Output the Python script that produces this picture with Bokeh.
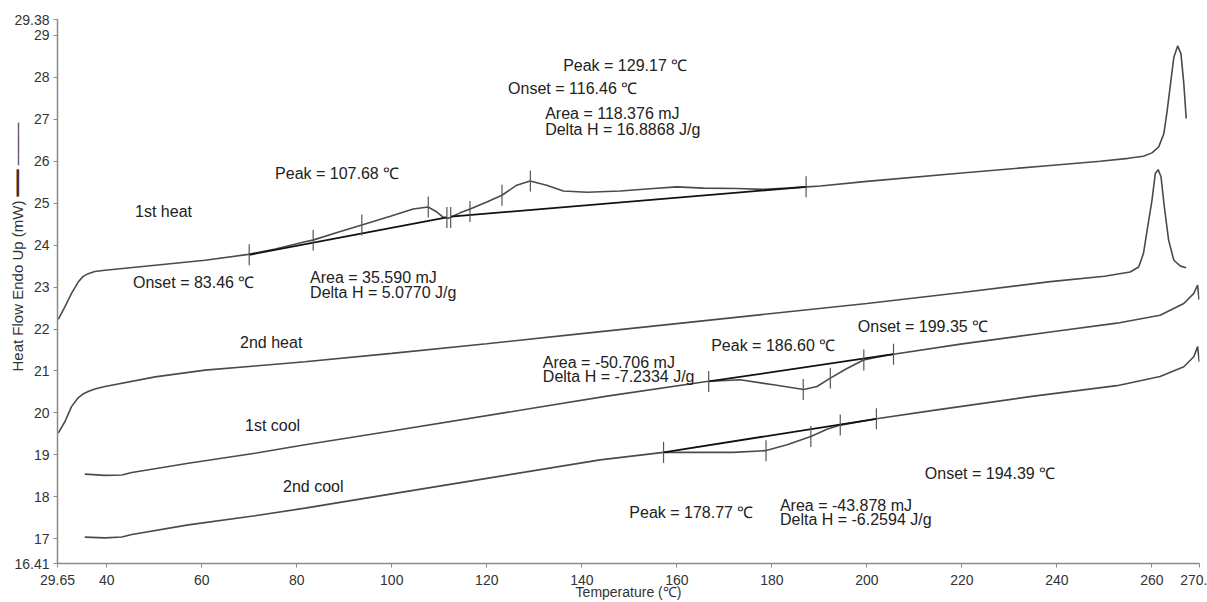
from bokeh.plotting import figure
from bokeh.models import Range1d, FixedTicker, Title
from bokeh.core.properties import value
from bokeh.embed import file_html
from bokeh.resources import INLINE

# ---------------- data ----------------
# 1st heat
T1 = [29.8, 31.2, 32.6, 34.0, 35.0, 36.1, 37.5, 39.65, 50.2, 60.7, 69.8, 75.5, 81.75, 83.4, 88.5, 93.7,
      99.7, 104.5, 107.65, 109.5, 110.8, 111.9, 114.4, 116.5, 120.0, 123.2, 126.3, 129.1,
      132.6, 136.1, 141.1, 148.1, 155.1, 160.0, 165.6, 172.6, 178.2, 183.2, 187.4, 190.2,
      200.0, 220.0, 238.6, 249.1, 255.0, 258.2, 260.0, 261.4, 262.5, 263.2, 263.9, 264.6,
      265.4, 266.1, 266.7, 267.2]
H1 = [22.23, 22.53, 22.85, 23.12, 23.25, 23.32, 23.37, 23.40, 23.52, 23.64, 23.78, 23.91, 24.08, 24.12, 24.30, 24.48,
      24.69, 24.86, 24.91, 24.79, 24.67, 24.64, 24.77, 24.86, 25.03, 25.19, 25.43, 25.53,
      25.43, 25.29, 25.26, 25.29, 25.35, 25.39, 25.36, 25.35, 25.33, 25.36, 25.39, 25.41,
      25.52, 25.72, 25.90, 26.00, 26.07, 26.12, 26.20, 26.34, 26.66, 27.21, 27.85, 28.48,
      28.75, 28.56, 27.85, 27.02]

# 2nd heat
T2 = [29.8, 31.2, 32.6, 34.0, 35.0, 36.1, 37.5, 39.65, 50.2, 60.7, 71.2, 81.75, 100.0, 120.0, 140.0, 160.0,
      180.0, 200.0, 220.0, 238.6, 250.0, 255.4, 257.2, 258.2, 259.1, 260.0, 260.7, 261.3,
      261.9, 262.6, 263.5, 264.6, 266.0, 267.2]
H2 = [19.52, 19.79, 20.15, 20.36, 20.45, 20.51, 20.57, 20.63, 20.86, 21.02, 21.12, 21.22, 21.42, 21.65, 21.89, 22.13,
      22.37, 22.61, 22.87, 23.13, 23.26, 23.36, 23.48, 23.80, 24.44, 25.07, 25.71, 25.80,
      25.63, 24.91, 24.12, 23.64, 23.50, 23.46]

# 1st cool
T3 = [35.4, 39.65, 43.2, 45.3, 57.2, 71.2, 81.75, 100.0, 131.2, 145.3, 166.3, 173.3, 180.35,
      186.7, 189.5, 192.3, 195.8, 199.3, 202.1, 205.6, 219.7, 238.6, 252.6, 261.7, 266.7,
      268.8, 269.6, 269.9]
H3 = [18.54, 18.51, 18.52, 18.58, 18.80, 19.04, 19.24, 19.57, 20.14, 20.40, 20.75, 20.79, 20.67,
      20.56, 20.63, 20.83, 21.06, 21.26, 21.33, 21.40, 21.64, 21.93, 22.14, 22.33, 22.61,
      22.85, 23.05, 22.70]

# 2nd cool
T4 = [35.4, 39.65, 43.2, 45.3, 57.2, 71.2, 81.75, 100.0, 120.0, 143.85, 157.2, 164.9, 171.9,
      178.6, 183.2, 188.2, 191.6, 194.4, 202.0, 214.0, 235.1, 252.6, 261.7, 266.7, 268.8,
      269.6, 269.95]
H4 = [17.04, 17.02, 17.04, 17.10, 17.33, 17.55, 17.73, 18.07, 18.44, 18.88, 19.06, 19.06, 19.06,
      19.10, 19.24, 19.44, 19.61, 19.71, 19.86, 20.06, 20.40, 20.65, 20.87, 21.10, 21.34,
      21.58, 21.22]

# integration baselines (start T, start H, end T, end H)
base_T0 = [70.0, 112.4, 166.7, 157.2]
base_H0 = [23.77, 24.68, 20.75, 19.06]
base_T1 = [111.6, 187.2, 205.6, 202.0]
base_H1 = [24.66, 25.39, 21.40, 19.86]

# event tick marks (T, H)
mark_T = [70.0, 83.46, 93.7, 107.68, 111.6, 112.4, 116.46, 123.2, 129.17, 187.2,
          166.7, 186.6, 192.3, 199.35, 205.6,
          157.2, 178.77, 188.2, 194.39, 202.0]
mark_H = [23.77, 24.12, 24.48, 24.91, 24.66, 24.66, 24.80, 25.19, 25.53, 25.39,
          20.75, 20.56, 20.83, 21.26, 21.40,
          19.06, 19.10, 19.44, 19.71, 19.86]

# annotation texts
ann_text = ["Peak = 129.17 \u2103", "Onset = 116.46 \u2103", "Area = 118.376 mJ", "Delta H = 16.8868 J/g",
            "Peak = 107.68 \u2103", "1st heat", "Onset = 83.46 \u2103", "Area = 35.590 mJ",
            "Delta H = 5.0770 J/g", "2nd heat", "Onset = 199.35 \u2103", "Peak = 186.60 \u2103",
            "Area = -50.706 mJ", "Delta H = -7.2334 J/g", "1st cool", "2nd cool",
            "Onset = 194.39 \u2103", "Peak = 178.77 \u2103", "Area = -43.878 mJ", "Delta H = -6.2594 J/g"]
ann_T = [136.07, 124.49, 132.28, 132.28, 75.44, 45.97, 45.54, 82.81, 82.81, 68.07, 198.1, 167.23,
         131.8, 131.8, 69.12, 77.12, 212.2, 150.0, 181.7, 181.7]
ann_H = [28.29, 27.74, 27.14, 26.76, 25.71, 24.81, 23.10, 23.24, 22.88, 21.67, 22.07, 21.60,
         21.20, 20.86, 19.71, 18.24, 18.55, 17.62, 17.79, 17.47]

x_ticks = [29.65, 40, 60, 80, 100, 120, 140, 160, 180, 200, 220, 240, 260, 270]
x_tick_labels = ["29.65", "40", "60", "80", "100", "120", "140", "160", "180", "200", "220",
                 "240", "260", "270."]
y_ticks = [16.41, 17, 18, 19, 20, 21, 22, 23, 24, 25, 26, 27, 28, 29, 29.38]
y_tick_labels = ["16.41", "17", "18", "19", "20", "21", "22", "23", "24", "25", "26", "27",
                 "28", "29", "29.38"]

y_title = "Heat Flow Endo Up (mW) \u2501\u2501\u2501  \u2500\u2500\u2500\u2500"
x_title = "Temperature (\u2103)"

# ---------------- figure ----------------
p = figure(width=1207, height=602, output_backend="svg", toolbar_location=None,
           x_range=Range1d(29.65, 270), y_range=Range1d(16.41, 29.38),
           min_border_left=57, min_border_right=8, min_border_top=19, min_border_bottom=39)
p.grid.visible = False
p.outline_line_color = None
p.background_fill_color = "white"
p.border_fill_color = "white"

for ax in [p.xaxis[0], p.yaxis[0]]:
    ax.axis_line_color = "#8a8a8a"
    ax.axis_line_width = 1.5
    ax.major_tick_line_color = "#8a8a8a"
    ax.major_tick_in = 0
    ax.major_tick_out = 4
    ax.minor_tick_line_color = None
    ax.major_label_text_font = "Liberation Sans"
    ax.major_label_text_font_size = "14px"
    ax.major_label_text_color = "#333333"

p.xaxis.ticker = FixedTicker(ticks=x_ticks)
p.xaxis.major_label_overrides = {t: l for t, l in zip(x_ticks, x_tick_labels)}
p.xaxis.major_label_standoff = 7
p.yaxis.ticker = FixedTicker(ticks=y_ticks)
p.yaxis.major_label_overrides = {t: l for t, l in zip(y_ticks, y_tick_labels)}
p.yaxis.major_label_standoff = 4
p.xaxis.axis_label = x_title
p.xaxis.axis_label_text_font = "Liberation Sans"
p.xaxis.axis_label_text_font_size = "14px"
p.xaxis.axis_label_text_font_style = "normal"
p.xaxis.axis_label_text_color = "#333333"
p.xaxis.axis_label_standoff = -4

p.add_layout(Title(text=y_title, align="left", offset=192, standoff=-28,
                   text_font="Liberation Sans, DejaVu Sans", text_font_size="15px",
                   text_font_style="normal", text_color="#333333"), "left")

curve_color = "#4a4a4a"
for T, H in [(T1, H1), (T2, H2), (T3, H3), (T4, H4)]:
    p.line(T, H, line_color=curve_color, line_width=1.6)

p.segment(x0=base_T0, y0=base_H0, x1=base_T1, y1=base_H1, line_color="#111111", line_width=1.8)

half = 0.25
p.segment(x0=mark_T, y0=[h - half for h in mark_H], x1=mark_T, y1=[h + half for h in mark_H],
          line_color="#555555", line_width=1.2)

p.text(x=ann_T, y=ann_H, text=ann_text, text_font=value("Liberation Sans"),
       text_font_size=value("16px"), text_color="#222222", text_align="left",
       text_baseline="middle")

open("out.html", "w").write(file_html(p, INLINE))
